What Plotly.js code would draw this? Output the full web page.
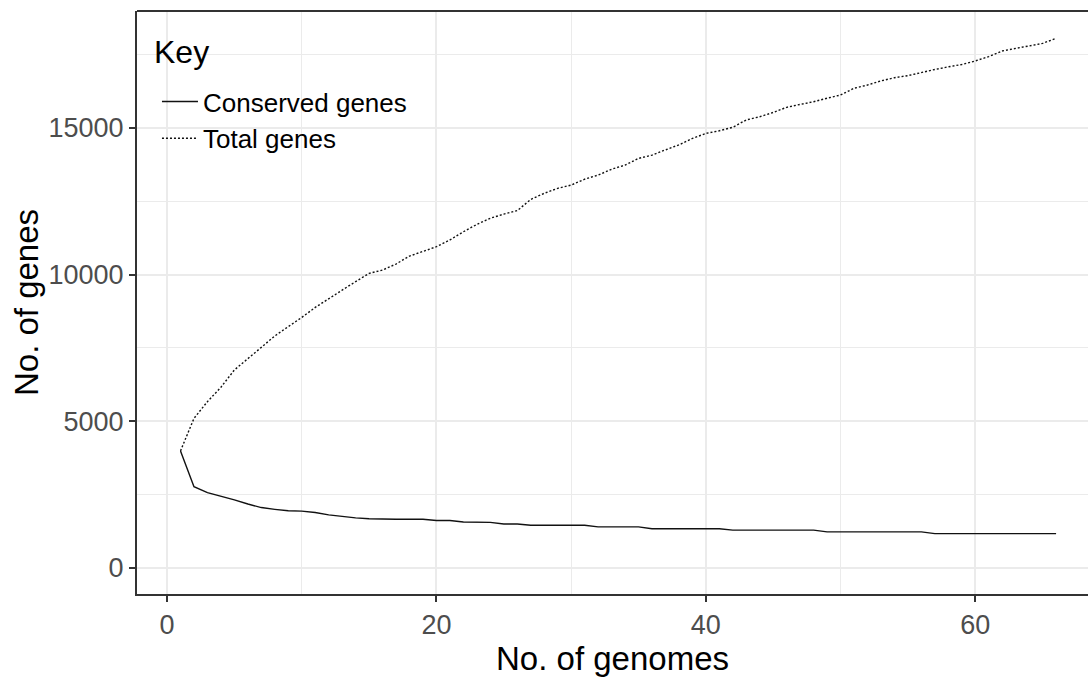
<!DOCTYPE html>
<html>
<head>
<meta charset="utf-8">
<script src="https://cdn.plot.ly/plotly-3.0.1.min.js"></script>
<style>
  html, body { margin: 0; padding: 0; background: #ffffff; overflow: hidden; }
  #chart { width: 1088px; height: 677px; }
</style>
</head>
<body>
<div id="chart"></div>
<script>
const genomes = [1,2,3,4,5,6,7,8,9,10,11,12,13,14,15,16,17,18,19,20,21,22,23,24,25,26,27,28,29,30,31,32,33,34,35,36,37,38,39,40,41,42,43,44,45,46,47,48,49,50,51,52,53,54,55,56,57,58,59,60,61,62,63,64,65,66];

const conservedGenes = [3990,2770,2570,2450,2320,2180,2060,2000,1950,1940,1890,1810,1750,1710,1680,1660,1660,1660,1660,1620,1620,1570,1570,1555,1500,1500,1455,1455,1455,1455,1455,1400,1400,1400,1400,1340,1340,1340,1340,1340,1340,1290,1290,1290,1290,1290,1290,1290,1230,1230,1230,1230,1230,1230,1230,1230,1170,1170,1170,1170,1170,1170,1170,1170,1170,1170];

const totalGenes = [3990,5100,5670,6160,6750,7150,7520,7910,8220,8540,8880,9190,9470,9760,10040,10155,10360,10630,10780,10950,11180,11460,11710,11920,12060,12180,12560,12770,12940,13050,13250,13390,13590,13730,13960,14070,14250,14420,14640,14810,14900,15020,15270,15380,15525,15700,15800,15890,16010,16120,16350,16460,16600,16710,16780,16890,16990,17080,17160,17280,17430,17620,17710,17800,17880,18050];

const seriesNames = ["Conserved genes", "Total genes"];
const legendTitle = "Key";
const xTitle = "No. of genomes";
const yTitle = "No. of genes";

const FONT = "Liberation Sans, Arial, Helvetica, sans-serif";

const traces = [
  {
    x: genomes, y: conservedGenes, name: seriesNames[0],
    type: "scatter", mode: "lines",
    line: { color: "#111111", width: 1.4, dash: "solid" }
  },
  {
    x: genomes, y: totalGenes, name: seriesNames[1],
    type: "scatter", mode: "lines",
    line: { color: "#111111", width: 1.4, dash: "2px,2px" }
  }
];

const layout = {
  width: 1088, height: 677,
  margin: { l: 137, r: 0, t: 11, b: 83 },
  paper_bgcolor: "#ffffff",
  plot_bgcolor: "#ffffff",
  font: { family: FONT, color: "#000000" },
  showlegend: true,
  legend: {
    x: 0.021, y: 0.885, xanchor: "left", yanchor: "top",
    bgcolor: "rgba(255,255,255,0)",
    borderwidth: 0,
    itemwidth: 36,
    font: { family: FONT, size: 26, color: "#000000" },
    traceorder: "normal"
  },
  annotations: [
    { text: legendTitle, xref: "paper", yref: "paper", x: 0.0158, y: 1 - (52 - 11) / 583,
      xanchor: "left", yanchor: "middle", showarrow: false,
      font: { family: FONT, size: 32, color: "#000000" } }
  ],
  xaxis: {
    range: [-2.23, 68.37],
    tickmode: "array", tickvals: [0, 20, 40, 60], ticktext: ["0", "20", "40", "60"],
    showgrid: true, gridcolor: "#EBEBEB", gridwidth: 2,
    minor: { tickmode: "array", tickvals: [10, 30, 50], showgrid: true, gridcolor: "#EBEBEB", gridwidth: 1, ticks: "" },
    zeroline: false,
    showline: true, linecolor: "#333333", linewidth: 2,
    ticks: "outside", ticklen: 6, tickwidth: 2, tickcolor: "#333333",
    tickfont: { family: FONT, size: 27, color: "#4D4D4D" },
    title: { text: xTitle, font: { family: FONT, size: 33, color: "#000000" }, standoff: 8 }
  },
  yaxis: {
    range: [-886, 18983],
    tickmode: "array", tickvals: [0, 5000, 10000, 15000], ticktext: ["0", "5000", "10000", "15000"],
    showgrid: true, gridcolor: "#EBEBEB", gridwidth: 2,
    minor: { tickmode: "array", tickvals: [2500, 7500, 12500, 17500], showgrid: true, gridcolor: "#EBEBEB", gridwidth: 1, ticks: "" },
    zeroline: false,
    showline: true, linecolor: "#333333", linewidth: 2,
    ticks: "outside", ticklen: 6, tickwidth: 2, tickcolor: "#333333",
    tickfont: { family: FONT, size: 27, color: "#4D4D4D" },
    title: { text: yTitle, font: { family: FONT, size: 33, color: "#000000" }, standoff: 0 }
  },
  shapes: [
    { type: "rect", xref: "paper", yref: "paper", x0: 0.002, x1: 0.308, y0: 0.724, y1: 1,
      fillcolor: "#ffffff", line: { width: 0 }, layer: "between" },
    { type: "line", xref: "paper", yref: "paper", x0: 0, x1: 1, y0: 1, y1: 1,
      line: { color: "#333333", width: 2 }, layer: "above" }
  ]
};

Plotly.newPlot("chart", traces, layout, { displayModeBar: false, staticPlot: true });
</script>
</body>
</html>
